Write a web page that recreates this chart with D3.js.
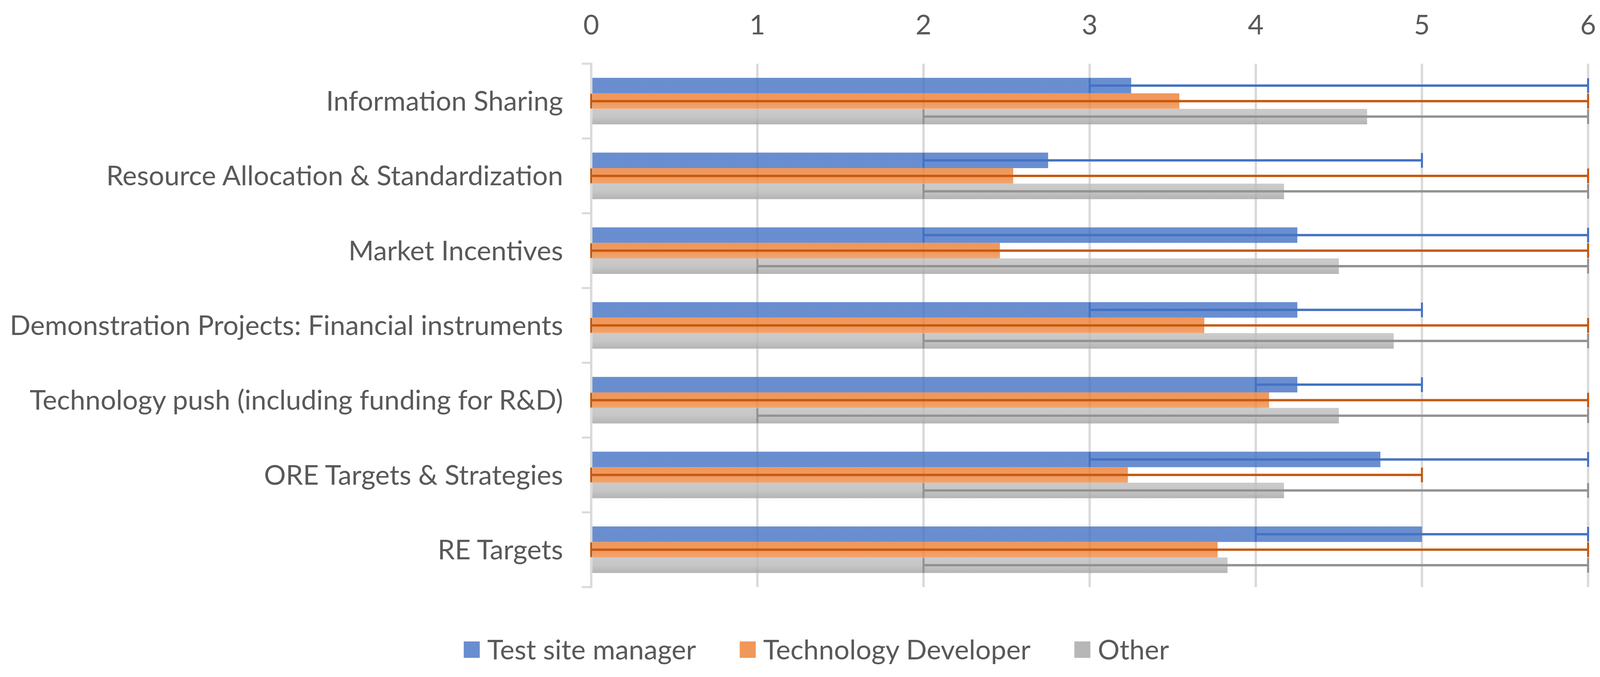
<!DOCTYPE html>
<html>
<head>
<meta charset="utf-8">
<script src="https://cdn.jsdelivr.net/npm/d3@7"></script>
<style>
  body { margin: 0; background: #fff; }
  text { font-family: Lato, "Open Sans", sans-serif; fill: #595959; }
</style>
</head>
<body>
<div id="chart"></div>
<script>
// data
const categories = [
    "Information Sharing",
    "Resource Allocation & Standardization",
    "Market Incentives",
    "Demonstration Projects: Financial instruments",
    "Technology push (including funding for R&D)",
    "ORE Targets & Strategies",
    "RE Targets"
];
const seriesNames = ["Test site manager", "Technology Developer", "Other"];

const testSite = [3.25, 2.75, 4.25, 4.25, 4.25, 4.75, 5.0];
const techDev  = [3.54, 2.54, 2.46, 3.69, 4.08, 3.23, 3.77];
const other    = [4.67, 4.17, 4.50, 4.83, 4.50, 4.17, 3.83];

// error bar ends (min / max)
const testSiteLow  = [3, 2, 2, 3, 4, 3, 4];
const testSiteHigh = [6, 5, 6, 5, 5, 6, 6];
const techDevLow   = [0, 0, 0, 0, 0, 0, 0];
const techDevHigh  = [6, 6, 6, 6, 6, 5, 6];
const otherLow     = [2, 2, 1, 2, 1, 2, 2];
const otherHigh    = [6, 6, 6, 6, 6, 6, 6];

const xTicks = [0, 1, 2, 3, 4, 5, 6];

const width = 4116;
const height = 1732;
const fontSize = "70px";

const series = [
    { name: seriesNames[0], values: testSite, low: testSiteLow, high: testSiteHigh, fill: "url(#gBlue)",   err: "#4472C4", key: "#698ED0" },
    { name: seriesNames[1], values: techDev,  low: techDevLow,  high: techDevHigh,  fill: "url(#gOrange)", err: "#C55A11", key: "#F1975A" },
    { name: seriesNames[2], values: other,    low: otherLow,    high: otherHigh,    fill: "url(#gGray)",   err: "#959191", key: "#B7B7B7" }
];

const svg = d3.select("#chart")
    .append("svg")
        .attr("width", width)
        .attr("height", height);

svg.append("rect").attr("width", width).attr("height", height).attr("fill", "#fff");

// gradients for the bar fills (drawn at 80% so the grid shows through)
const defs = svg.append("defs");
function grad(id, stops) {
    const g = defs.append("linearGradient").attr("id", id)
        .attr("x1", 0).attr("y1", 0).attr("x2", 0).attr("y2", 1);
    stops.forEach(s => g.append("stop").attr("offset", s[0]).attr("stop-color", s[1]));
}
grad("gBlue",   [[0, "#4472C4"], [1, "#4472C4"]]);
grad("gOrange", [[0, "#ED7D31"], [0.6, "#ED7F35"], [1, "#EF904C"]]);
grad("gGray",   [[0, "#BEBEBE"], [0.5, "#B8B8B8"], [1, "#A1A1A1"]]);

const x = d3.scaleLinear()
    .domain([0, 6])
    .range([1513.5, 4065.5]);

const y = d3.scaleBand()
    .domain(categories)
    .range([163, 1502]);

const ySub = d3.scaleBand()
    .domain(seriesNames)
    .range([0, y.bandwidth()])
    .paddingOuter(0.91);

// vertical gridlines
svg.append("g")
    .selectAll("line")
    .data(xTicks.slice(1))
    .enter()
    .append("line")
        .attr("x1", d => x(d)).attr("x2", d => x(d))
        .attr("y1", y.range()[0]).attr("y2", y.range()[1])
        .attr("stroke", "#D9D9D9")
        .attr("stroke-width", 6);

// top axis labels
svg.append("g")
    .selectAll("text")
    .data(xTicks)
    .enter()
    .append("text")
        .attr("x", d => x(d))
        .attr("y", 63)
        .attr("dy", "0.35em")
        .attr("text-anchor", "middle")
        .style("font-size", fontSize)
        .text(d => d);

// category axis line + tick marks
const yAxis = svg.append("g");
yAxis.append("line")
    .attr("x1", x(0)).attr("x2", x(0))
    .attr("y1", y.range()[0] - 2.5).attr("y2", y.range()[1] + 2.5)
    .attr("stroke", "#D9D9D9").attr("stroke-width", 6);
yAxis.selectAll("line.tick")
    .data(categories.map(c => y(c)).concat([y.range()[1]]))
    .enter()
    .append("line")
        .attr("class", "tick")
        .attr("x1", x(0) - 24).attr("x2", x(0))
        .attr("y1", d => d).attr("y2", d => d)
        .attr("stroke", "#D9D9D9").attr("stroke-width", 5);

yAxis.selectAll("text")
    .data(categories)
    .enter()
    .append("text")
        .attr("x", x(0) - 72)
        .attr("y", d => y(d) + y.bandwidth() / 2)
        .attr("dy", "0.35em")
        .attr("text-anchor", "end")
        .style("font-size", fontSize)
        .text(d => d);

// bars
const groups = svg.append("g")
    .selectAll("g")
    .data(series)
    .enter()
    .append("g");

groups.selectAll("rect")
    .data(s => s.values.map((v, i) => ({ s: s, v: v, c: categories[i] })))
    .enter()
    .append("rect")
        .attr("x", x(0) + 3)
        .attr("y", d => y(d.c) + ySub(d.s.name))
        .attr("width", d => x(d.v) - x(0) - 3)
        .attr("height", ySub.bandwidth())
        .attr("fill", d => d.s.fill)
        .style("fill-opacity", 0.8);

// error bars
const errs = svg.append("g")
    .selectAll("g")
    .data(series)
    .enter()
    .append("g");

const errData = s => s.values.map((v, i) => ({
    s: s, lo: s.low[i], hi: s.high[i],
    top: y(categories[i]) + ySub(s.name),
    mid: y(categories[i]) + ySub(s.name) + ySub.bandwidth() / 2
}));

errs.each(function(s) {
    const g = d3.select(this);
    const d = errData(s);
    g.selectAll("line.bar").data(d).enter().append("line")
        .attr("x1", e => x(e.lo)).attr("x2", e => x(e.hi))
        .attr("y1", e => e.mid).attr("y2", e => e.mid)
        .attr("stroke", s.err).attr("stroke-width", 6);
    ["lo", "hi"].forEach(k => {
        g.selectAll("line.cap" + k).data(d).enter().append("line")
            .attr("x1", e => x(e[k])).attr("x2", e => x(e[k]))
            .attr("y1", e => e.top + 1).attr("y2", e => e.top + ySub.bandwidth() - 1)
            .attr("stroke", s.err).attr("stroke-width", 5);
    });
});

// legend, laid out from the text widths and centred
const legend = svg.append("g").attr("transform", "translate(0, 1662)");
const items = legend.selectAll("g")
    .data(series)
    .enter()
    .append("g");

items.append("rect")
    .attr("x", 0).attr("y", -21)
    .attr("width", 41).attr("height", 42)
    .attr("fill", d => d.key);

items.append("text")
    .attr("x", 60)
    .attr("dy", "0.35em")
    .style("font-size", fontSize)
    .text(d => d.name);

let pos = 0;
items.each(function() {
    const w = this.getBBox().width;
    d3.select(this).attr("transform", `translate(${pos}, 0)`);
    pos += w + 112;
});
const total = pos - 112;
legend.attr("transform", `translate(${2090 - total / 2}, 1662)`);
</script>
</body>
</html>
